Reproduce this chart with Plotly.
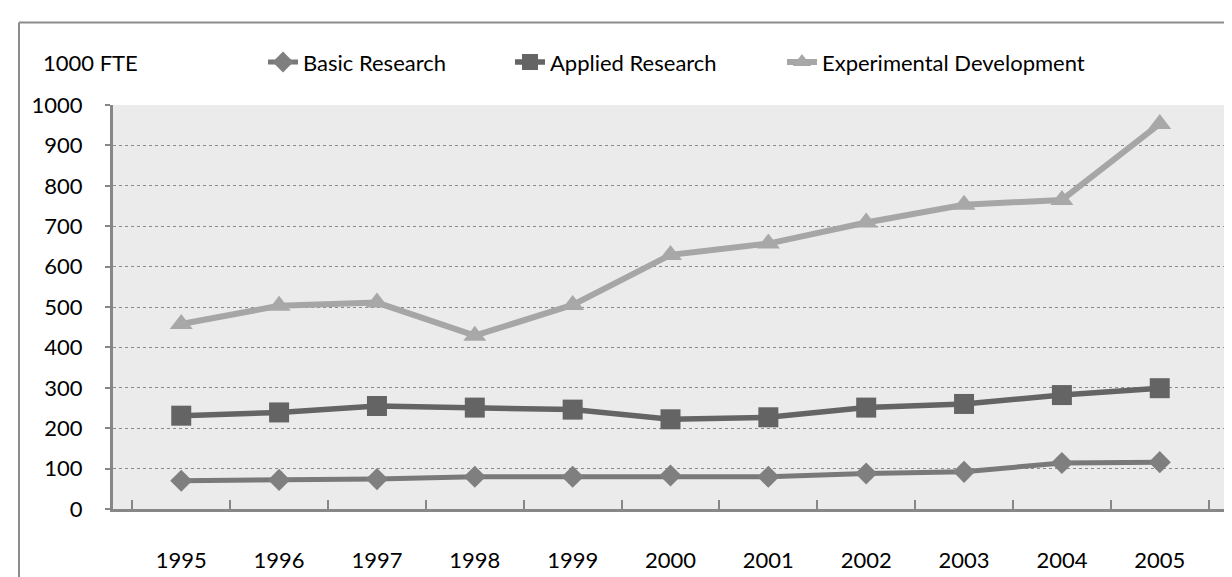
import plotly.graph_objects as go

years = ["1995", "1996", "1997", "1998", "1999", "2000", "2001", "2002", "2003", "2004", "2005"]
basic = [70, 72, 74, 80, 80, 83, 80, 88, 92, 114, 116]
applied = [231, 239, 255, 251, 246, 222, 227, 251, 260, 282, 299]
experimental = [458, 503, 511, 429, 505, 629, 657, 709, 753, 765, 953]
y_ticks = [0, 100, 200, 300, 400, 500, 600, 700, 800, 900, 1000]
unit_label = "1000 FTE"

FONT = "Lato"
FS = 22
fig = go.Figure()

fig.add_trace(go.Scatter(
    x=years, y=basic, name="Basic Research", mode="lines+markers",
    line=dict(color="#797979", width=5),
    marker=dict(symbol="diamond", size=17, color="#7f7f7f"),
    legend="legend", showlegend=True))
fig.add_trace(go.Scatter(
    x=years, y=applied, name="Applied Research", mode="lines+markers",
    line=dict(color="#646464", width=5.5),
    marker=dict(symbol="square", size=20, color="#646464"),
    legend="legend2", showlegend=True))
fig.add_trace(go.Scatter(
    x=years, y=experimental, name="Experimental Development", mode="lines+markers",
    line=dict(color="#a6a6a6", width=6),
    marker=dict(symbol="triangle-up", size=20, color="#a8a8a8"),
    legend="legend3", showlegend=True))

leg_common = dict(orientation="h", yanchor="middle", xanchor="left",
                  font=dict(family=FONT, size=FS, color="#000000"),
                  bgcolor="rgba(0,0,0,0)", itemwidth=30, y=1.106)

fig.update_layout(
    width=1232, height=577,
    showlegend=True,
    margin=dict(l=105, r=12, t=97, b=64),
    paper_bgcolor="#ffffff",
    plot_bgcolor="#ebebeb",
    font=dict(family=FONT, size=FS, color="#000000"),
    legend=dict(leg_common, x=(255 - 105) / 1115),
    legend2=dict(leg_common, x=(502 - 105) / 1115),
    legend3=dict(leg_common, x=(774 - 105) / 1115),
    xaxis=dict(
        type="category", showgrid=False, showline=True, linecolor="#878787", linewidth=3,
        ticks="inside", tickson="boundaries", ticklen=9, tickwidth=2, tickcolor="#878787",
        ticklabelstandoff=30, tickfont=dict(family=FONT, size=FS),
    ),
    yaxis=dict(
        range=[0, 1000], tickvals=y_ticks, showgrid=True, gridcolor="#8a8a8a",
        griddash="dot", gridwidth=1, showline=True, linecolor="#878787", linewidth=3,
        ticks="outside", ticklen=5, tickwidth=2, tickcolor="#878787",
        ticklabelstandoff=18, zeroline=False, tickfont=dict(family=FONT, size=FS),
    ),
    annotations=[dict(
        text=unit_label, xref="paper", yref="paper", x=(33 - 105) / 1115, y=(513 - 53) / 416,
        xanchor="left", yanchor="middle", showarrow=False,
        font=dict(family=FONT, size=FS, color="#000000"))],
    shapes=[
        dict(type="line", xref="paper", yref="paper", x0=(11 - 105) / 1115, x1=1.2,
             y0=(513 - 12) / 416, y1=(513 - 12) / 416, line=dict(color="#8c8c8c", width=2)),
        dict(type="line", xref="paper", yref="paper", x0=(11 - 105) / 1115, x1=(11 - 105) / 1115,
             y0=(513 - 12) / 416, y1=-0.3, line=dict(color="#8c8c8c", width=2)),
    ],
)

fig.write_html("out.html")
